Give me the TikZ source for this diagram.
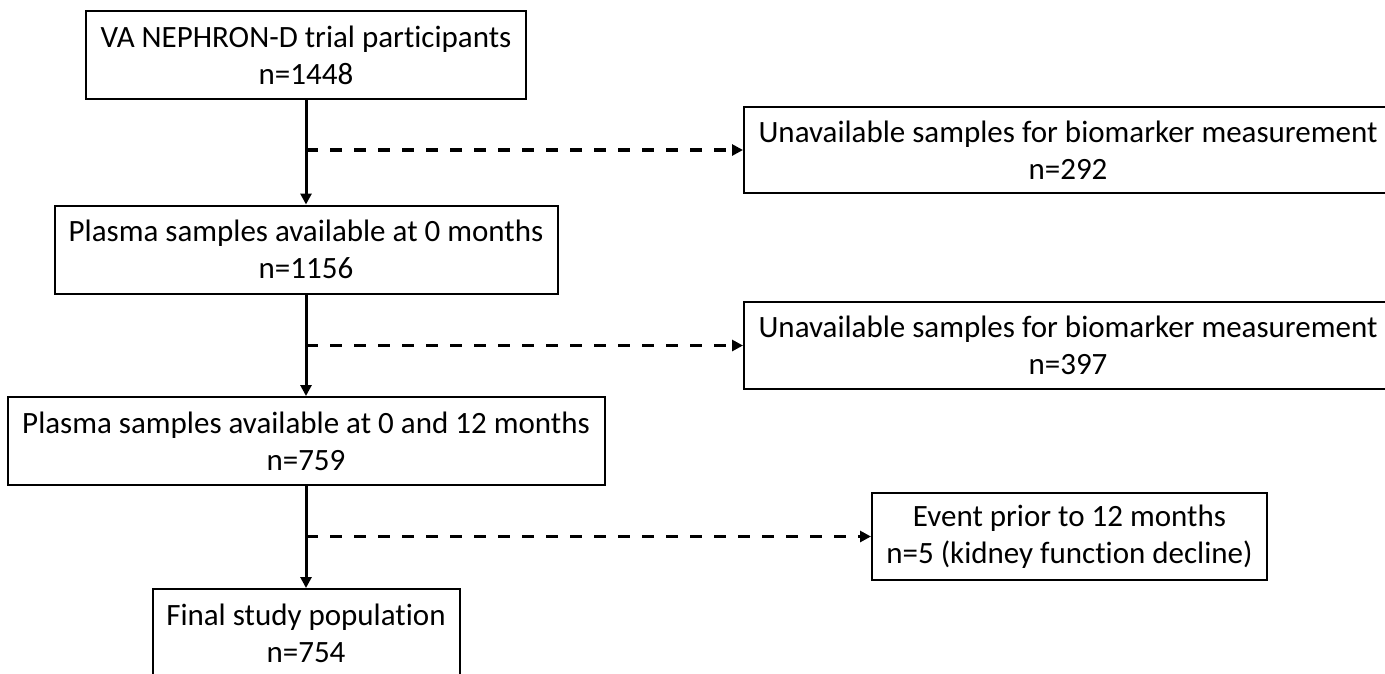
\documentclass[tikz,border=0pt]{standalone}
\usepackage{fontspec}
\setmainfont{Carlito}[Ligatures=NoCommon]
\usetikzlibrary{arrows.meta}

\begin{document}
\begin{tikzpicture}[x=1pt, y=-1pt,
  box/.style={draw, rectangle, line width=2pt, align=center, inner sep=0pt,
    minimum height=88pt, font=\fontsize{31}{37}\selectfont},
  flow/.style={-{Triangle[length=11pt,width=11pt]}, line width=3pt},
  excl/.style={-{Triangle[length=11pt,width=11pt]}, line width=3.4pt,
    dash pattern=on 12pt off 12pt}]
\fill[white] (0,0) rectangle (1385,673);
\useasboundingbox (0,0) rectangle (1385,673);
% main flow
\node[box, minimum width=440pt] (part) at (306,55) {VA NEPHRON-D trial participants\\n=1448};
\node[box, minimum width=503pt] (avail0) at (306,249.5) {Plasma samples available at 0 months\\n=1156};
\node[box, minimum width=597pt] (avail12) at (306,441) {Plasma samples available at 0 and 12 months\\n=759};
\node[box, minimum width=307pt] (final) at (306,633) {Final study population\\n=754};
% exclusions
\node[box, minimum width=648pt, minimum height=86pt] (nosample1) at (1068,150) {Unavailable samples for biomarker measurement\\n=292};
\node[box, minimum width=648pt, minimum height=87pt] (nosample2) at (1068,345.5) {Unavailable samples for biomarker measurement\\n=397};
\node[box, minimum width=395pt, minimum height=87pt] (event) at (1069.5,536.5) {Event prior to 12 months\\n=5 (kidney function decline)};
\coordinate (split1) at (part.south |- nosample1.west);
\coordinate (split2) at (avail0.south |- nosample2.west);
\coordinate (split3) at (avail12.south |- event.west);
\draw[flow] (part) -- (avail0);
\draw[flow] (avail0) -- (avail12);
\draw[flow] (avail12) -- (final);
\draw[excl] (split1) -- (nosample1);
\draw[excl] (split2) -- (nosample2);
\draw[excl] (split3) -- (event);
\end{tikzpicture}
\end{document}
